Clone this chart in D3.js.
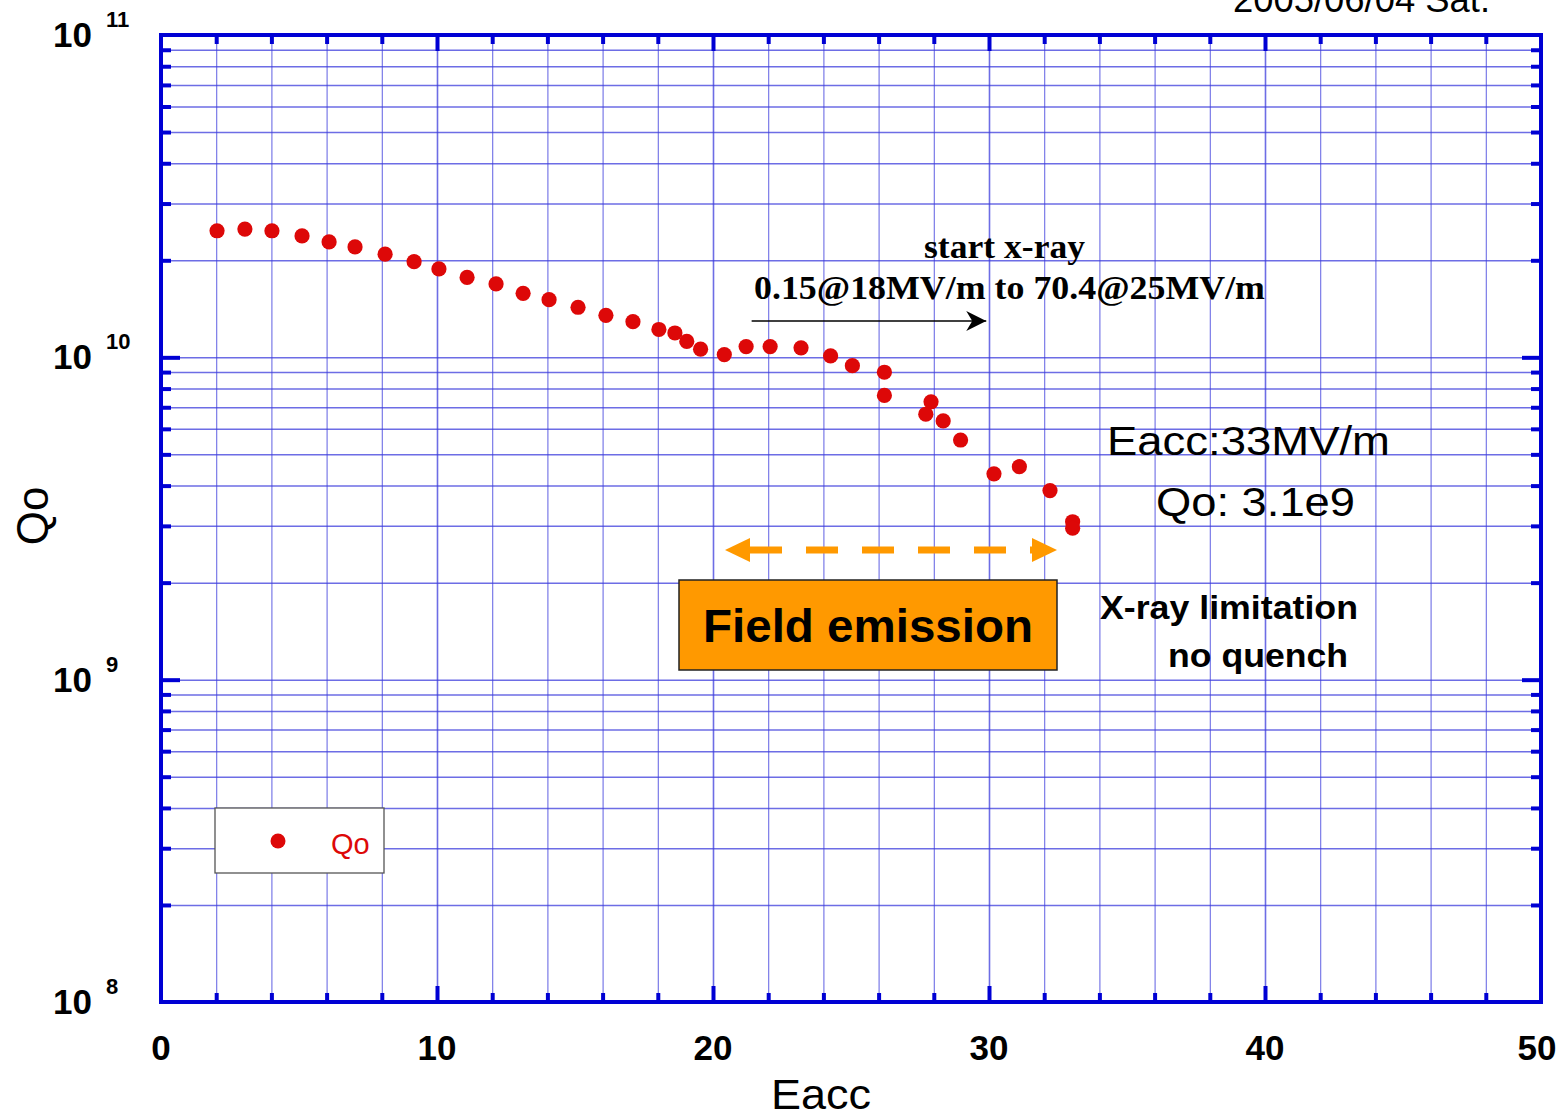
<!DOCTYPE html>
<html>
<head>
<meta charset="utf-8">
<script src="https://cdn.jsdelivr.net/npm/d3@7"></script>
<style>
  body { margin: 0; background: #fff; }
</style>
</head>
<body>
<div id="chart"></div>
<script>
// --- Data ---
const eacc = [2.03, 3.04, 4.02, 5.11, 6.09, 7.03, 8.12, 9.17, 10.07, 11.09,
  12.14, 13.12, 14.06, 15.11, 16.12, 17.10, 18.04, 18.62, 19.05, 19.55,
  20.41, 21.20, 22.07, 23.19, 24.26, 25.05, 26.21, 26.21, 27.71, 27.90,
  28.34, 28.97, 30.18, 31.10, 32.21, 33.03, 33.03];
const qo = [2.47e10, 2.50e10, 2.47e10, 2.38e10, 2.28e10, 2.20e10, 2.09e10, 1.98e10, 1.88e10, 1.77e10,
  1.69e10, 1.58e10, 1.51e10, 1.43e10, 1.35e10, 1.29e10, 1.22e10, 1.19e10, 1.12e10, 1.06e10,
  1.02e10, 1.08e10, 1.08e10, 1.07e10, 1.01e10, 9.42e9, 8.99e9, 7.62e9, 6.66e9, 7.28e9,
  6.35e9, 5.54e9, 4.35e9, 4.58e9, 3.86e9, 3.09e9, 2.95e9];
const xTicks = [0, 10, 20, 30, 40, 50];
const yDecades = [8, 9, 10, 11];
const seriesName = 'Qo';

const W = 1564, H = 1117;
const margin = { top: 35, right: 23, bottom: 115, left: 161 };
const width = W - margin.left - margin.right;
const height = H - margin.top - margin.bottom;

const sans = 'Arial, "Liberation Sans", sans-serif';
const serif = '"Liberation Serif", "Times New Roman", serif';

const svg = d3.select('#chart').append('svg')
  .attr('width', W).attr('height', H)
  .style('font-family', sans);

const g = svg.append('g')
  .attr('transform', `translate(${margin.left},${margin.top})`);

const x = d3.scaleLinear().domain([0, 50]).range([0, width]);
const y = d3.scaleLog().domain([1e8, 1e11]).range([height, 0]);

const gridColor = '#3c3cdc';
const axisColor = '#0000d4';

// minor values for the log axis
const yMinor = [];
for (let e = 8; e < 11; e++) {
  for (let m = 2; m <= 9; m++) yMinor.push(m * Math.pow(10, e));
}
const xMinor = d3.range(2, 50, 2).filter(v => v % 10 !== 0);

// grid: horizontal
g.append('g').call(d3.axisLeft(y).tickValues(yMinor.concat([1e9, 1e10])).tickSize(-width).tickFormat(''))
  .call(s => s.select('.domain').remove())
  .selectAll('line').attr('stroke', gridColor).attr('stroke-opacity', 0.75).attr('stroke-width', 1.5);

// grid: vertical
g.append('g').attr('transform', `translate(0,${height})`)
  .call(d3.axisBottom(x).tickValues(d3.range(2, 50, 2)).tickSize(-height).tickFormat(''))
  .call(s => s.select('.domain').remove())
  .selectAll('line').attr('stroke', gridColor).attr('stroke-opacity', 0.75)
  .attr('stroke-width', d => d % 10 === 0 ? 1.6 : 1.1);

// frame
g.append('rect').attr('width', width).attr('height', height)
  .attr('fill', 'none').attr('stroke', axisColor).attr('stroke-width', 4);

// inward ticks
function tickAxis(axis, transform, vals, size) {
  g.append('g').attr('transform', transform)
    .call(axis.tickValues(vals).tickSize(size).tickFormat(''))
    .call(s => s.select('.domain').remove())
    .selectAll('line').attr('stroke', axisColor).attr('stroke-width', 4);
}
tickAxis(d3.axisBottom(x), `translate(0,${height})`, xMinor, -9);
tickAxis(d3.axisBottom(x), `translate(0,${height})`, [10, 20, 30, 40], -16);
tickAxis(d3.axisTop(x), 'translate(0,0)', xMinor, -9);
tickAxis(d3.axisTop(x), 'translate(0,0)', [10, 20, 30, 40], -16);
tickAxis(d3.axisLeft(y), 'translate(0,0)', yMinor, -10);
tickAxis(d3.axisLeft(y), 'translate(0,0)', [1e9, 1e10], -19);
tickAxis(d3.axisRight(y), `translate(${width},0)`, yMinor, -10);
tickAxis(d3.axisRight(y), `translate(${width},0)`, [1e9, 1e10], -19);

// x tick labels
g.append('g').selectAll('text').data(xTicks).enter().append('text')
  .attr('x', d => x(d) + (d === 50 ? -4 : 0)).attr('y', height + 58)
  .attr('text-anchor', 'middle')
  .attr('font-size', 35).attr('font-weight', 'bold')
  .text(d => d);

// y tick labels: 10 with superscript exponent
const yl = g.append('g').selectAll('g').data(yDecades).enter().append('g')
  .attr('transform', d => `translate(0,${y(Math.pow(10, d))})`);
yl.append('text').attr('x', -69).attr('y', 12)
  .attr('text-anchor', 'end').attr('font-size', 35).attr('font-weight', 'bold')
  .text('10');
yl.append('text').attr('x', -55).attr('y', -8)
  .attr('font-size', 22).attr('font-weight', 'bold')
  .text(d => d);

// axis titles
svg.append('text').attr('x', 821).attr('y', 1109)
  .attr('text-anchor', 'middle').attr('font-size', 42)
  .attr('textLength', 100).attr('lengthAdjust', 'spacingAndGlyphs').text('Eacc');
svg.append('text').attr('transform', 'translate(48,516) rotate(-90)')
  .attr('text-anchor', 'middle').attr('font-size', 44).text('Qo');

// date (cut off at top, as in the original)
svg.append('text').attr('x', 1490).attr('y', 12)
  .attr('text-anchor', 'end').attr('font-size', 36)
  .attr('textLength', 257).attr('lengthAdjust', 'spacingAndGlyphs').text('2005/06/04 Sat.');

// data points
g.append('g').selectAll('circle').data(eacc).enter().append('circle')
  .attr('cx', d => x(d)).attr('cy', (d, i) => y(qo[i]))
  .attr('r', 7.6).attr('fill', '#dd0808');

// start x-ray annotation (serif)
g.append('text').attr('x', 924 - margin.left).attr('y', 223)
  .style('font-family', serif).attr('font-weight', 'bold').attr('font-size', 33)
  .attr('textLength', 161).attr('lengthAdjust', 'spacingAndGlyphs')
  .text('start x-ray');
g.append('text').attr('x', 754 - margin.left).attr('y', 264)
  .style('font-family', serif).attr('font-weight', 'bold').attr('font-size', 33)
  .attr('textLength', 511).attr('lengthAdjust', 'spacingAndGlyphs')
  .text('0.15@18MV/m to 70.4@25MV/m');

const defs = svg.append('defs');
defs.append('marker').attr('id', 'blackHead').attr('viewBox', '0 0 10 10')
  .attr('refX', 10).attr('refY', 5).attr('markerWidth', 26).attr('markerHeight', 20)
  .attr('markerUnits', 'userSpaceOnUse').attr('orient', 'auto')
  .append('path').attr('d', 'M0,0 L10,5 L0,10 L3,5 Z').attr('fill', '#000');

g.append('line').attr('x1', x(21.4)).attr('x2', x(29.9))
  .attr('y1', 286).attr('y2', 286)
  .attr('stroke', '#000').attr('stroke-width', 1.3)
  .attr('marker-end', 'url(#blackHead)');

// orange double arrow
const orange = '#ff9900';
const ay = 515;
const aL = 725 - margin.left, aR = 1057 - margin.left, head = 25, hh = 12;
g.append('line').attr('x1', aL + head).attr('x2', aR - head)
  .attr('y1', ay).attr('y2', ay)
  .attr('stroke', orange).attr('stroke-width', 7)
  .attr('stroke-dasharray', '32,24');
g.append('path')
  .attr('d', `M${aL},${ay} L${aL + head},${ay - hh} L${aL + head},${ay + hh} Z`)
  .attr('fill', orange);
g.append('path')
  .attr('d', `M${aR},${ay} L${aR - head},${ay - hh} L${aR - head},${ay + hh} Z`)
  .attr('fill', orange);

// field emission box
g.append('rect').attr('x', 679 - margin.left).attr('y', 545)
  .attr('width', 378).attr('height', 90)
  .attr('fill', orange).attr('stroke', '#222').attr('stroke-width', 1.5);
g.append('text').attr('x', 703 - margin.left).attr('y', 607)
  .attr('font-weight', 'bold').attr('font-size', 46)
  .attr('textLength', 330).attr('lengthAdjust', 'spacingAndGlyphs')
  .text('Field emission');

// result text
function note(px, py, txt, size, len, bold) {
  g.append('text').attr('x', px - margin.left).attr('y', py - margin.top)
    .attr('font-size', size).attr('font-weight', bold ? 'bold' : 'normal')
    .attr('textLength', len).attr('lengthAdjust', 'spacingAndGlyphs')
    .text(txt);
}
note(1107, 455, 'Eacc:33MV/m', 41, 283, false);
note(1156, 516, 'Qo: 3.1e9', 41, 199, false);
note(1100, 619, 'X-ray limitation', 33, 258, true);
note(1168, 667, 'no quench', 33, 180, true);

// legend
const lg = g.append('g').attr('transform', `translate(${215 - margin.left},${808 - margin.top})`);
lg.append('rect').attr('width', 169).attr('height', 65)
  .attr('fill', '#fff').attr('stroke', '#555').attr('stroke-width', 1.3);
lg.append('circle').attr('cx', 63).attr('cy', 33).attr('r', 7.5).attr('fill', '#dd0808');
lg.append('text').attr('x', 116).attr('y', 46).attr('font-size', 29)
  .attr('fill', '#dd0808').text(seriesName);
</script>
</body>
</html>
